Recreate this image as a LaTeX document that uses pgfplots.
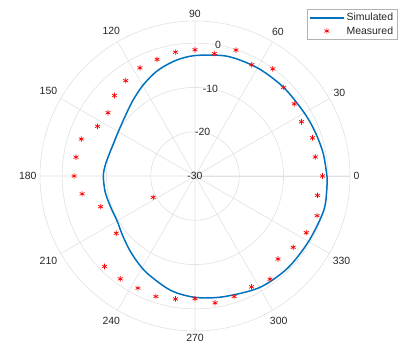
\documentclass[border=0pt]{standalone}
\usepackage{pgfplots}
\pgfplotsset{compat=1.18}
\usepgfplotslibrary{polar}
\usepackage{fontspec}
\setmainfont{Liberation Sans}
\definecolor{mblue}{rgb}{0,0.447,0.741}
\definecolor{mtext}{rgb}{0.15,0.15,0.15}
\definecolor{mgrid}{RGB}{225,225,225}
\begin{document}
\begin{tikzpicture}
\useasboundingbox (-195bp,-176bp) rectangle (205bp,176bp);
\begin{polaraxis}[
  at={(0,0)}, anchor=center,
  scale only axis, width=310bp, height=310bp,
  ymin=0, ymax=35,
  xtick={0,30,...,330},
  ytick={10,20,30},
  yticklabels={},
  xticklabel={\pgfmathprintnumber[assume math mode=true]{\tick}},
  xticklabel style={font=\fontsize{10.5}{12}\selectfont, text=mtext},
  grid=major,
  major grid style={mgrid, line width=0.6pt},
  axis line style={mgrid, line width=0.6pt},
  major tick length=0pt,
  legend cell align=left,
  legend image code/.code={\draw[mark repeat=2,mark phase=2,#1] plot coordinates {(0cm,0cm) (0.6cm,0cm) (1.2cm,0cm)};},
  legend style={at={(axis description cs:0.861,1.038)}, anchor=north west,
    draw=gray!60, fill=white, font=\fontsize{10.5}{12}\selectfont, text=mtext,
    row sep=0pt, inner sep=2pt},
]
\addplot[mblue, line width=1.5pt, smooth, no markers] table[x=a, y expr=\thisrow{db}+30] {
a db
0 -0.2
10 -0.6
20 -1.1
30 -1.5
45 -1.7
60 -1.8
75 -2.0
90 -2.8
100 -3.6
110 -4.8
120 -6.4
130 -8.0
140 -9.3
150 -10.0
158 -10.2
166 -10.0
173 -9.6
180 -9.3
190 -9.4
200 -9.7
210 -9.7
218 -9.0
227 -7.9
235 -6.8
244 -5.5
258 -3.6
270 -2.6
283 -2.0
300 -0.9
315 -0.5
330 -0.4
345 0.1
355 -0.1
360 -0.2
};
\addlegendentry{Simulated}
\addplot[only marks, mark=asterisk, red, mark size=2.8pt, mark options={line width=0.7pt}] table[x=a, y expr=\thisrow{db}+30] {
a db
0 -1.2
9 -2.5
18 -2.1
27 -3.0
36 -2.3
45 -1.7
54 -0.1
63 -1.8
72 -0.1
81 -2.0
90 -1.5
99 -1.7
108 -2.3
117 -2.6
126 -3.4
135 -4.3
144 -5.7
153 -5.3
162 -3.0
171 -2.8
180 -2.7
189 -4.2
198 -7.6
207 -19.4
216 -8.0
225 -1.1
234 -1.3
243 -1.6
252 -1.4
261 -1.9
270 -2.3
279 -1.0
288 -1.4
297 -1.9
306 -1.2
315 -3.5
324 -2.6
333 -1.8
342 -1.0
351 -2.0
};
\addlegendentry{Measured}
\node[text=mtext, font=\fontsize{10.5}{12}\selectfont] at (axis cs:80,0) {-30};
\node[text=mtext, font=\fontsize{10.5}{12}\selectfont] at (axis cs:80,10) {-20};
\node[text=mtext, font=\fontsize{10.5}{12}\selectfont] at (axis cs:80,20) {-10};
\node[text=mtext, font=\fontsize{10.5}{12}\selectfont] at (axis cs:80,30) {0};
\end{polaraxis}
\end{tikzpicture}
\end{document}
